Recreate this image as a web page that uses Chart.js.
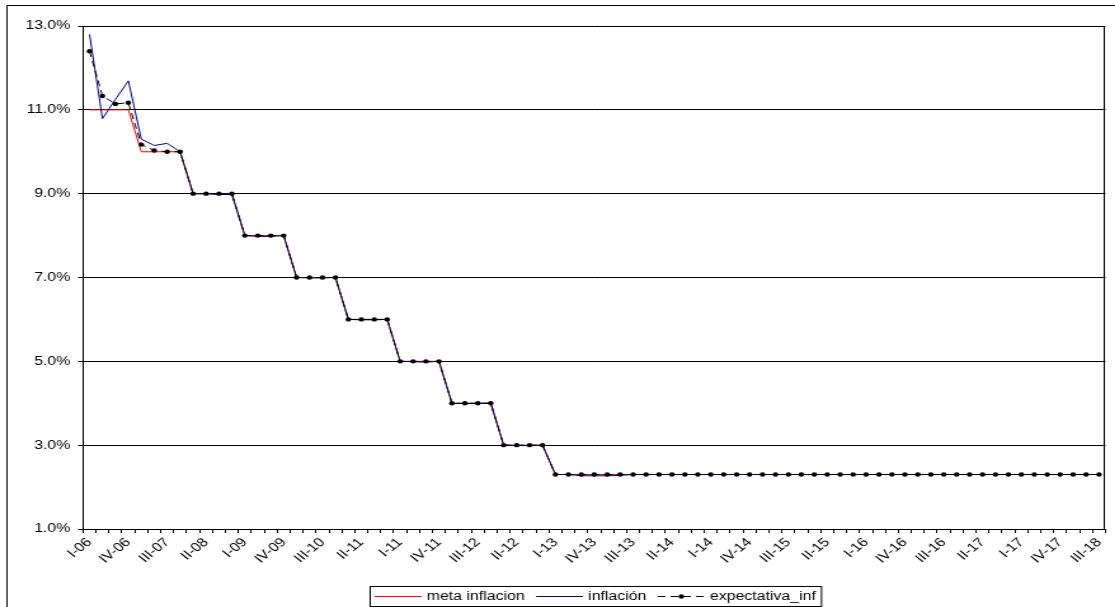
<!DOCTYPE html>
<html>
<head>
<meta charset="utf-8">
<script src="https://cdn.jsdelivr.net/npm/chart.js@4.4.1/dist/chart.umd.min.js"></script>
<style>
html,body{margin:0;padding:0;background:#fff;overflow:hidden;}
/* the original picture is stretched sideways, so draw narrow and stretch */
#wrap{width:878px;height:607px;transform:scaleX(1.27);transform-origin:0 0;}
</style>
</head>
<body>
<div id="wrap"><canvas id="chart" width="878" height="607"></canvas></div>
<script>
const quarters = ['I-06','II-06','III-06','IV-06','I-07','II-07','III-07','IV-07','I-08','II-08','III-08','IV-08',
  'I-09','II-09','III-09','IV-09','I-10','II-10','III-10','IV-10','I-11','II-11','III-11','IV-11',
  'I-11','II-11','III-11','IV-11','I-12','II-12','III-12','IV-12','I-12','II-12','III-12','IV-12',
  'I-13','II-13','III-13','IV-13','I-13','II-13','III-13','IV-13','I-14','II-14','III-14','IV-14',
  'I-14','II-14','III-14','IV-14','I-15','II-15','III-15','IV-15','I-15','II-15','III-15','IV-15',
  'I-16','II-16','III-16','IV-16','I-16','II-16','III-16','IV-16','I-17','II-17','III-17','IV-17',
  'I-17','II-17','III-17','IV-17','I-18','II-18','III-18'];

const meta = [11,11,11,11, 10,10,10,10, 9,9,9,9, 8,8,8,8, 7,7,7,7, 6,6,6,6, 5,5,5,5, 4,4,4,4, 3,3,3,3,
  2.3,2.3,2.3,2.3,2.3,2.3,2.3,2.3,2.3,2.3,2.3,2.3,2.3,2.3,2.3,2.3,2.3,2.3,2.3,2.3,2.3,2.3,
  2.3,2.3,2.3,2.3,2.3,2.3,2.3,2.3,2.3,2.3,2.3,2.3,2.3,2.3,2.3,2.3,2.3,2.3,2.3,2.3,2.3];

const inflacion = [12.8,10.79,11.25,11.69, 10.30,10.15,10.20,10.0, 9.0,9.0,8.98,8.98, 8.0,7.98,7.98,8.0,
  7.0,6.99,6.99,7.0, 6.0,5.99,5.99,6.0, 5.0,4.99,4.98,5.0, 4.0,3.99,4.0,4.0, 3.0,2.99,2.99,3.0,
  2.3,2.3,2.27,2.27,2.27,2.28,2.3,2.3,2.3,2.3,2.3,2.3,2.3,2.3,2.3,2.3,2.3,2.3,2.3,2.3,2.3,2.3,
  2.3,2.3,2.3,2.3,2.3,2.3,2.3,2.3,2.3,2.3,2.3,2.3,2.3,2.3,2.3,2.3,2.3,2.3,2.3,2.3,2.3];

const expectativa = [12.40,11.33,11.14,11.17, 10.17,10.03,10.0,10.0, 9,9,9,9, 8,8,8,8, 7,7,7,7, 6,6,6,6,
  5,5,5,5, 4,4,4,4, 3,3,3,3,
  2.3,2.3,2.3,2.3,2.3,2.3,2.3,2.3,2.3,2.3,2.3,2.3,2.3,2.3,2.3,2.3,2.3,2.3,2.3,2.3,2.3,2.3,
  2.3,2.3,2.3,2.3,2.3,2.3,2.3,2.3,2.3,2.3,2.3,2.3,2.3,2.3,2.3,2.3,2.3,2.3,2.3,2.3,2.3];

const FONT = "'Liberation Sans', Arial, sans-serif";
Chart.defaults.font.family = FONT;
Chart.defaults.font.size = 12.5;
Chart.defaults.color = '#000';

// outer frame + right edge of the plot area
const framePlugin = {
  id:'frame',
  afterDraw(chart){
    const c = chart.ctx, a = chart.chartArea;
    c.save();
    c.strokeStyle = '#000';
    c.lineWidth = 1;
    c.beginPath();
    c.moveTo(Math.round(a.right)-0.5, a.top);
    c.lineTo(Math.round(a.right)-0.5, a.bottom);
    c.stroke();
    c.strokeRect(5.5, 5.5, chart.width + 10, chart.height + 10);
    c.restore();
  }
};

// boxed legend along the bottom
const legendPlugin = {
  id:'boxLegend',
  afterDraw(chart){
    const c = chart.ctx;
    c.save();
    c.font = '12.5px ' + FONT;
    c.textBaseline = 'middle';
    const left = 291, top = 586, h = 20, lineLen = 37;
    const cy = top + h/2;
    const sets = chart.data.datasets;
    let x = left + 4;
    sets.forEach((ds, i) => {
      c.strokeStyle = ds.borderColor;
      c.lineWidth = 1;
      c.setLineDash(ds.borderDash || []);
      c.beginPath();
      c.moveTo(x, cy + 0.5);
      c.lineTo(x + lineLen, cy + 0.5);
      c.stroke();
      c.setLineDash([]);
      if (ds.pointRadius) {
        c.fillStyle = ds.pointBackgroundColor;
        c.beginPath();
        c.arc(x + lineLen/2, cy + 0.5, ds.pointRadius, 0, Math.PI*2);
        c.fill();
      }
      x += lineLen + 4;
      c.fillStyle = '#000';
      c.fillText(ds.label, x, cy + 1);
      x += c.measureText(ds.label).width + (i < sets.length - 1 ? 9 : 4);
    });
    c.strokeStyle = '#000';
    c.strokeRect(left + 0.5, top + 0.5, x - left, h);
    c.restore();
  }
};

const ctx = document.getElementById('chart').getContext('2d');
new Chart(ctx, {
  type:'line',
  data:{
    labels: quarters,
    datasets:[
      { label:'meta inflacion', data:meta, borderColor:'#ff0000', borderWidth:1, pointRadius:0, order:3 },
      { label:'inflación', data:inflacion, borderColor:'#000080', borderWidth:1, pointRadius:0, order:2 },
      { label:'expectativa_inf', data:expectativa, borderColor:'#000', borderWidth:1, borderDash:[6,4],
        pointRadius:2.2, pointBackgroundColor:'#000', pointBorderWidth:0, order:1 }
    ]
  },
  options:{
    responsive:false, animation:false, devicePixelRatio:1,
    layout:{ padding:{ top:26, right:2.4, left:0, bottom:0 } },
    plugins:{ legend:{display:false}, tooltip:{enabled:false} },
    scales:{
      x:{
        offset:true,
        grid:{ offset:true, drawOnChartArea:false, tickLength:4, color:'#000' },
        border:{ color:'#000' },
        ticks:{ autoSkip:false, maxRotation:45, minRotation:45, padding:2,
                callback:(v,i) => i % 3 === 0 ? quarters[i] : '' },
        afterFit: s => { s.height = 78; }
      },
      y:{
        min:1, max:13,
        ticks:{ stepSize:2, padding:6, callback: v => v.toFixed(1) + '%' },
        grid:{ color:'#000', tickLength:4 },
        border:{ color:'#000' },
        afterFit: s => { s.width = 65.4; }
      }
    }
  },
  plugins:[framePlugin, legendPlugin]
});
</script>
</body>
</html>
